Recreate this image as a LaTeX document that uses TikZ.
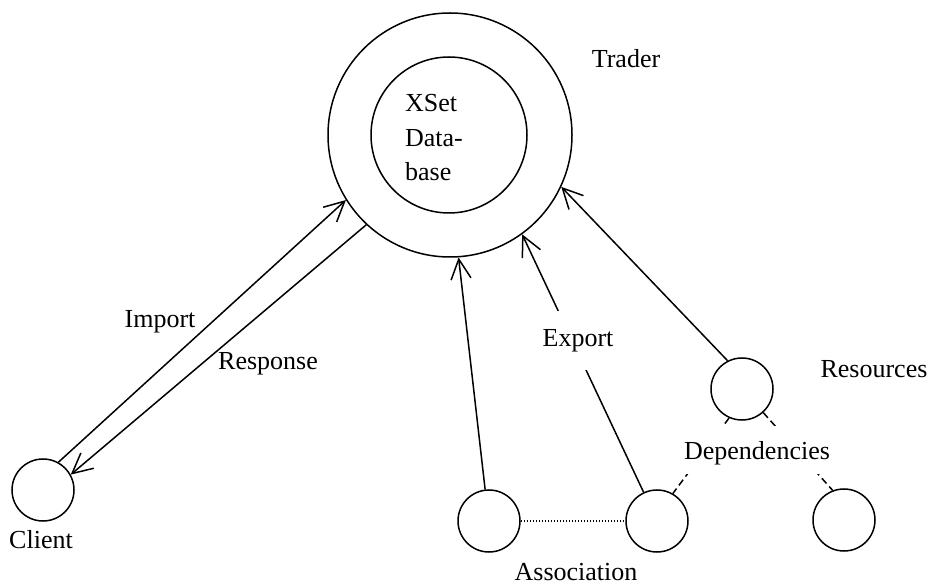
\documentclass[tikz,border=0pt]{standalone}
\usepackage{fontspec}
\setmainfont{Liberation Serif}
\usepackage{tikz}
\usetikzlibrary{arrows.meta}
\tikzset{unit/.style={circle,draw,minimum size=62pt,inner sep=0pt},
lbl/.style={anchor=base,inner sep=0pt},
blank/.style={anchor=base,fill=white,inner xsep=4pt,inner ysep=8pt},
depline/.style={dash pattern=on 7pt off 4pt}}

\begin{document}
\begin{tikzpicture}[x=1pt,y=-1pt,line width=1.5pt,
>={Straight Barb[length=20pt,width=20pt]},
font=\fontsize{26}{34.5}\selectfont]
\useasboundingbox (0,0) rectangle (930,585);
\node[circle,draw,minimum size=244pt,inner sep=0pt] (trader) at (450,135) {};
\node[circle,draw,minimum size=156pt,inner sep=0pt] (xset) at (449,135) {};
\node[align=left,inner sep=0pt] (dbtext) at (434,138) {XSet\\Data-\\base};
\node[unit] (client) at (43,490) {};
\node[unit] (assocL) at (489,521) {};
\node[unit] (assocR) at (657,521) {};
\node[unit] (res) at (742,389) {};
\node[unit] (dep3) at (844,520) {};
\draw[->] (client.61) -- (trader.212.5);
\draw[->] (trader.227) -- (client.29);
\draw[->] (assocL.97) -- (trader.274);
\draw[->] (assocR.115) -- (trader.306);
\draw[->] (res.117) -- (trader.335);
\draw[dash pattern=on 1.5pt off 1.5pt] (assocL) -- (assocR);
\draw[depline] (res.246) -- (assocR.60);
\draw[depline] (res.312) -- (dep3.111);
\node[lbl] (trlbl) at (626,68) {Trader};
\node[lbl] (import) at (160,328) {Import};
\node[lbl] (response) at (268,370) {Response};
\node[blank,text height=28pt,text depth=15pt] (export) at (578,347) {Export};
\node[lbl] (resources) at (874,378) {Resources};
\node[blank,text height=26pt,text depth=6pt] (deps) at (757,460) {Dependencies};
\node[lbl] (clientlbl) at (41,548) {Client};
\node[lbl] (assoclbl) at (576,580) {Association};
\end{tikzpicture}
\end{document}
